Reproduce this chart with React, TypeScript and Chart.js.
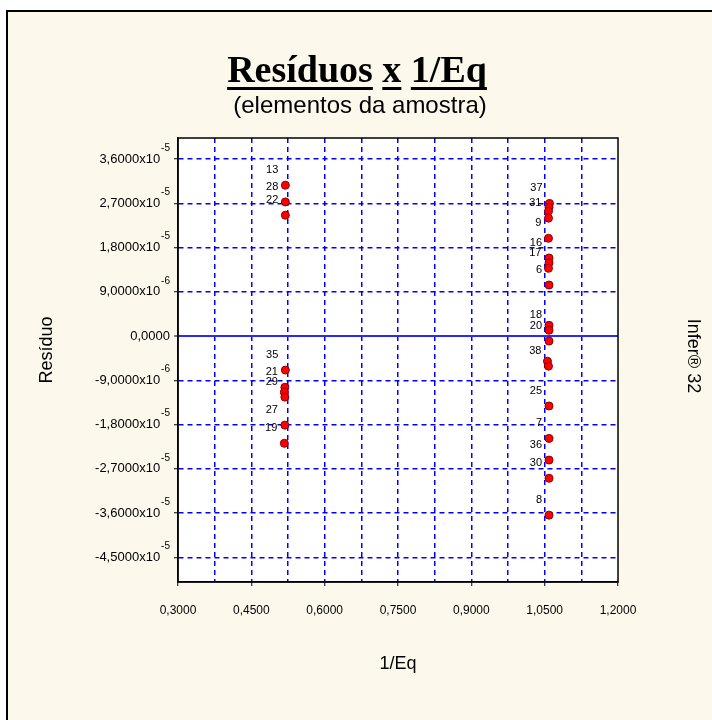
import { useEffect, useRef } from "react";
import { Chart, registerables } from "chart.js";

Chart.register(...registerables);

// ---- data ----
const leftX = [0.5196, 0.5196, 0.5196, 0.5196, 0.5186, 0.5175, 0.5186, 0.5186, 0.5175];
const leftY = [3.07e-5, 2.73e-5, 2.46e-5, -0.69e-5, -1.04e-5, -1.14e-5, -1.24e-5, -1.81e-5, -2.18e-5];
const leftLabels = ["13", "28", "22", "35", "21", "", "29", "27", "19"];

const rightX = [1.0599, 1.0589, 1.0578, 1.0578, 1.0578, 1.0589, 1.0589, 1.0578, 1.0589, 1.0589, 1.0589, 1.0589, 1.0557, 1.0578, 1.0589, 1.0589, 1.0589, 1.0589, 1.0589];
const rightY = [2.70e-5, 2.62e-5, 2.54e-5, 2.40e-5, 1.99e-5, 1.59e-5, 1.49e-5, 1.38e-5, 1.04e-5, 0.22e-5, 0.12e-5, -0.10e-5, -0.51e-5, -0.61e-5, -1.42e-5, -2.08e-5, -2.52e-5, -2.89e-5, -3.64e-5];
const rightLabels = ["37", "", "", "31", "9", "16", "", "17", "6", "", "18", "20", "", "38", "25", "7", "36", "30", "8"];

const yTickValues = [3.6e-5, 2.7e-5, 1.8e-5, 9e-6, 0, -9e-6, -1.8e-5, -2.7e-5, -3.6e-5, -4.5e-5];
const yTickMantissa = ["3,6000", "2,7000", "1,8000", "9,0000", "0,0000", "-9,0000", "-1,8000", "-2,7000", "-3,6000", "-4,5000"];
const yTickExponent = ["-5", "-5", "-5", "-6", "", "-6", "-5", "-5", "-5", "-5"];

const xGridValues = [0.3, 0.375, 0.45, 0.525, 0.6, 0.675, 0.75, 0.825, 0.9, 0.975, 1.05, 1.125, 1.2];
const xTickLabels = ["0,3000", "", "0,4500", "", "0,6000", "", "0,7500", "", "0,9000", "", "1,0500", "", "1,2000"];

const titleWords = ["Resíduos", "x", "1/Eq"];
const subtitle = "(elementos da amostra)";
const yTitle = "Resíduo";
const xTitle = "1/Eq";
const rightText = "Infer® 32";

const SANS = '"Liberation Sans", Arial, sans-serif';
const GRID_BLUE = "#0000ff";
const CLEAR = "rgba(0,0,0,0)";

const decor = {
  id: "decor",
  beforeDraw(chart: any) {
    const ctx = chart.ctx;
    const { width, height } = chart;
    ctx.save();
    ctx.fillStyle = "#ffffff";
    ctx.fillRect(0, 0, width, height);
    ctx.fillStyle = "#fdf8ec";
    ctx.fillRect(7, 11, width - 7, height - 11);
    ctx.strokeStyle = "#000";
    ctx.lineWidth = 2;
    ctx.beginPath();
    ctx.moveTo(7, height);
    ctx.lineTo(7, 11);
    ctx.lineTo(width, 11);
    ctx.stroke();
    const a = chart.chartArea;
    ctx.fillStyle = "#ffffff";
    ctx.fillRect(a.left, a.top, a.right - a.left, a.bottom - a.top);
    ctx.restore();
  },
  beforeDatasetsDraw(chart: any) {
    const ctx = chart.ctx;
    const a = chart.chartArea;
    ctx.save();
    ctx.strokeStyle = "#000";
    ctx.lineWidth = 1.5;
    ctx.strokeRect(a.left, a.top, a.right - a.left, a.bottom - a.top);
    ctx.restore();
  },
  afterDatasetsDraw(chart: any) {
    const ctx = chart.ctx;
    ctx.save();
    ctx.font = "11px " + SANS;
    ctx.fillStyle = "#000";
    ctx.textAlign = "right";
    ctx.textBaseline = "middle";
    chart.data.datasets.forEach((ds: any, di: number) => {
      const meta = chart.getDatasetMeta(di);
      meta.data.forEach((pt: any, i: number) => {
        const lab = ds.pointLabels[i];
        if (lab) ctx.fillText(lab, pt.x - 7, pt.y - 15);
      });
    });
    ctx.restore();
  },
  afterDraw(chart: any) {
    const ctx = chart.ctx;
    const { width } = chart;
    const ys = chart.scales.y;
    ctx.save();
    ctx.fillStyle = "#000";
    // y tick labels
    ctx.textBaseline = "middle";
    ctx.textAlign = "right";
    yTickValues.forEach((v, i) => {
      const py = ys.getPixelForValue(v);
      const exp = yTickExponent[i];
      let right = 170;
      if (exp) {
        ctx.font = "10px " + SANS;
        ctx.fillText(exp, right, py - 11);
        right -= ctx.measureText(exp).width + 1;
      }
      ctx.font = "13px " + SANS;
      ctx.fillText(exp ? yTickMantissa[i] + "x10" : yTickMantissa[i], right, py);
    });
    // title with underlined words
    ctx.font = 'bold 38px "Liberation Serif", "Times New Roman", serif';
    ctx.textAlign = "left";
    ctx.textBaseline = "alphabetic";
    const space = ctx.measureText(" ").width;
    const widths = titleWords.map((w) => ctx.measureText(w).width);
    const total = widths.reduce((s, w) => s + w, 0) + space * (titleWords.length - 1);
    let x = width / 2 + 1 - total / 2;
    const base = 82;
    titleWords.forEach((w, i) => {
      ctx.fillText(w, x, base);
      ctx.fillRect(x, base + 5, widths[i], 3);
      x += widths[i] + space;
    });
    // subtitle
    ctx.font = "24px " + SANS;
    ctx.textAlign = "center";
    ctx.textBaseline = "middle";
    ctx.fillText(subtitle, width / 2 + 4, 106);
    // x title
    ctx.font = "18px " + SANS;
    const a = chart.chartArea;
    ctx.fillText(xTitle, (a.left + a.right) / 2, 664);
    // y title
    ctx.save();
    ctx.translate(47, 350);
    ctx.rotate(-Math.PI / 2);
    ctx.fillText(yTitle, 0, 0);
    ctx.restore();
    // right text
    ctx.save();
    ctx.translate(693, 356);
    ctx.rotate(Math.PI / 2);
    ctx.fillText(rightText, 0, 0);
    ctx.restore();
    ctx.restore();
  },
};

export default function App() {
  const ref = useRef<HTMLCanvasElement | null>(null);
  useEffect(() => {
    if (!ref.current) return;
    const pointStyle = {
      pointRadius: 4,
      pointHoverRadius: 4,
      pointBackgroundColor: "#ff0000",
      pointBorderColor: "#8b0000",
      pointBorderWidth: 1,
      showLine: false,
    };
    const chart = new Chart(ref.current, {
      type: "scatter",
      data: {
        datasets: [
          {
            label: "left",
            data: leftX.map((x, i) => ({ x, y: leftY[i] })),
            pointLabels: leftLabels,
            ...pointStyle,
          } as any,
          {
            label: "right",
            data: rightX.map((x, i) => ({ x, y: rightY[i] })),
            pointLabels: rightLabels,
            ...pointStyle,
          } as any,
        ],
      },
      options: {
        responsive: false,
        animation: false,
        devicePixelRatio: 1,
        layout: { padding: { left: 0, right: 94, top: 138, bottom: 0 } },
        plugins: { legend: { display: false }, tooltip: { enabled: false }, title: { display: false } },
        scales: {
          x: {
            type: "linear",
            min: 0.3,
            max: 1.2,
            afterBuildTicks: (s: any) => {
              s.ticks = xGridValues.map((v) => ({ value: v }));
            },
            afterFit: (s: any) => {
              s.height = 138;
            },
            ticks: {
              autoSkip: false,
              maxRotation: 0,
              padding: 17,
              color: "#000",
              font: { family: SANS, size: 12 },
              callback: (_v: any, i: number) => xTickLabels[i],
            },
            grid: {
              color: (c: any) =>
                c.index === 0 || c.index === xGridValues.length - 1 ? CLEAR : GRID_BLUE,
              lineWidth: 1.5,
              drawTicks: true,
              tickLength: 4,
              tickWidth: 1,
              tickColor: (c: any) => (xTickLabels[c.index] ? "#000" : CLEAR),
              tickBorderDash: [],
            },
            border: { display: true, color: "#000", width: 1.5, dash: [5, 4] },
          },
          y: {
            type: "linear",
            min: -5e-5,
            max: 4.03e-5,
            afterBuildTicks: (s: any) => {
              s.ticks = yTickValues.map((v) => ({ value: v }));
            },
            afterFit: (s: any) => {
              s.width = 178;
            },
            ticks: { display: false },
            grid: {
              color: (c: any) => (c.tick && c.tick.value === 0 ? "#2a2aff" : GRID_BLUE),
              lineWidth: (c: any) => (c.tick && c.tick.value === 0 ? 2 : 1.5),
              drawTicks: true,
              tickLength: 4,
              tickWidth: 1,
              tickColor: "#000",
              tickBorderDash: [],
            },
            border: {
              display: true,
              color: "#000",
              width: 1.5,
              dash: (c: any) => (c.tick && c.tick.value === 0 ? [] : [5, 4]),
            },
          },
        },
      },
      plugins: [decor],
    } as any);
    return () => chart.destroy();
  }, []);
  return (
    <div style={{ position: "absolute", left: 0, top: 0, width: 712, height: 720 }}>
      <canvas ref={ref} width={712} height={720} style={{ width: 712, height: 720, display: "block" }} />
    </div>
  );
}
